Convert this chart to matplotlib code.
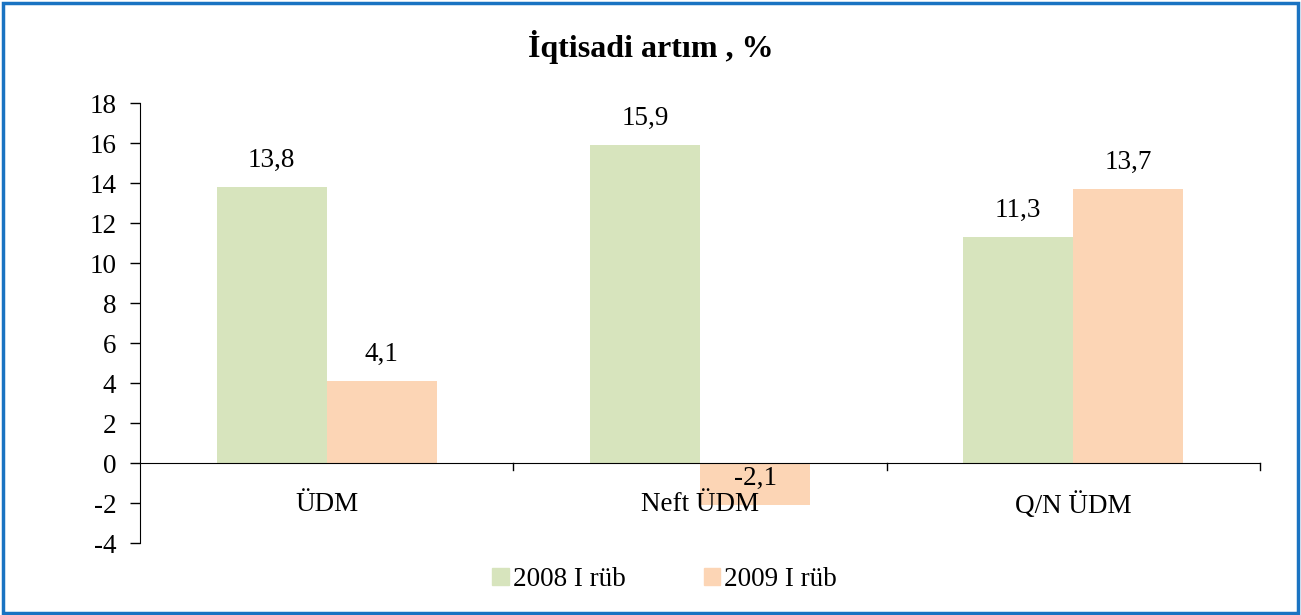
import numpy as np
import matplotlib
matplotlib.use('Agg')
import matplotlib.pyplot as plt
from matplotlib.patches import Rectangle, Patch

plt.rcParams['font.family'] = ['Liberation Serif', 'DejaVu Serif']

categories = ['ÜDM', 'Neft ÜDM', 'Q/N ÜDM']
series_names = ['2008 I rüb', '2009 I rüb']
values_2008 = [13.8, 15.9, 11.3]
values_2009 = [4.1, -2.1, 13.7]
colors = ['#d7e4bd', '#fcd5b5']

fig = plt.figure(figsize=(13.01, 6.15), dpi=100)
ax = fig.add_axes([0.1076, 0.117, 0.8609, 0.7155])

x = np.arange(len(categories))
w = 0.295
bars1 = ax.bar(x - w / 2, values_2008, w, color=colors[0], zorder=1)
bars2 = ax.bar(x + w / 2, values_2009, w, color=colors[1], zorder=1)

for bars, vals in [(bars1, values_2008), (bars2, values_2009)]:
    for b, v in zip(bars, vals):
        ax.annotate(('%.1f' % v).replace('.', ','),
                    (b.get_x() + b.get_width() / 2, v),
                    xytext=(0, 19), textcoords='offset points',
                    ha='center', va='center', fontsize=19.5, zorder=3)

ax.set_xlim(-0.5, len(categories) - 0.5)
ax.set_ylim(-4, 18)
ax.set_yticks(np.arange(-4, 19, 2))
ax.set_yticklabels([str(t) for t in range(-4, 19, 2)], fontsize=19.5)
ax.tick_params(axis='y', direction='out', length=7, width=1, pad=10)

ax.spines['top'].set_visible(False)
ax.spines['right'].set_visible(False)
ax.spines['bottom'].set_position(('data', 0))
ax.spines['bottom'].set_zorder(2)
ax.set_xticks(x)
ax.set_xticklabels(categories, fontsize=19.5)
ax.tick_params(axis='x', length=0, pad=21)
# category separators on the zero line
for b in [0.5, 1.5, 2.5]:
    ax.plot([b, b], [0, -0.35], color='black', lw=1, clip_on=False)

fig.text(0.5, 0.923, 'İqtisadi artım , %', ha='center', va='center',
         fontsize=23, fontweight='bold')

handles = [Patch(color=c) for c in colors]
fig.legend(handles, series_names, loc='center', bbox_to_anchor=(0.511, 0.057),
           ncol=2, frameon=False, fontsize=19.5, handlelength=0.6,
           handleheight=0.6, handletextpad=0.15, columnspacing=2.9)

fig.patches.append(Rectangle((0.002, 0.003), 0.996, 0.992, transform=fig.transFigure,
                             fill=False, edgecolor='#1a73c2', lw=2.5))

fig.savefig('out.png', dpi=100)
